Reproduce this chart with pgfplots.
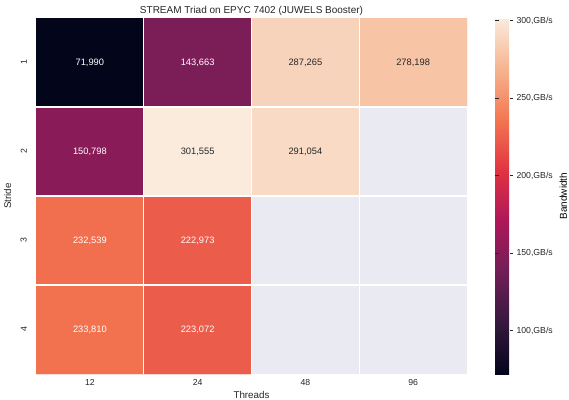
\documentclass[border=0pt]{standalone}
\usepackage{fontspec}
\setmainfont{Liberation Sans}
\usepackage{pgfplots}
\pgfplotsset{compat=1.18}
\usepackage{pgfplotstable}

% seaborn "rocket" colour map
\pgfplotsset{
  colormap={rocket}{
    rgb255(0)=(3,5,26)
    rgb255(1)=(53,25,62)
    rgb255(2)=(112,31,87)
    rgb255(3)=(173,23,89)
    rgb255(4)=(225,51,66)
    rgb255(5)=(243,118,81)
    rgb255(6)=(246,180,143)
    rgb255(7)=(250,235,221)
  }
}
\definecolor{bgcell}{RGB}{234,234,242}
\definecolor{darktext}{RGB}{38,38,38}

% bandwidth in GB/s; x = thread column, y = stride row (nan = not measured)
\pgfplotstableread{
x y bw
0 0 71.990
1 0 143.663
2 0 287.265
3 0 278.198
0 1 150.798
1 1 301.555
2 1 291.054
3 1 nan
0 2 232.539
1 2 222.973
2 2 nan
3 2 nan
0 3 233.810
1 3 223.072
2 3 nan
3 3 nan
}\bwgrid

% cell labels, split by text colour
\pgfplotstableread{
x y bw
0 0 71.990
1 0 143.663
0 1 150.798
0 2 232.539
1 2 222.973
0 3 233.810
1 3 223.072
}\darkcells
\pgfplotstableread{
x y bw
2 0 287.265
3 0 278.198
1 1 301.555
2 1 291.054
}\lightcells

\begin{document}
\begin{tikzpicture}
\path[use as bounding box] (-36bp,-26bp) rectangle (533bp,374bp);
\begin{axis}[
  at={(0,0)}, anchor=south west,
  scale only axis, width=431bp, height=356bp,
  xmin=-0.5, xmax=3.5, ymin=-0.5, ymax=3.5,
  y dir=reverse,
  axis background/.style={fill=bgcell},
  axis line style={draw=none},
  xtick={0,1,2,3}, xticklabels={12,24,48,96},
  ytick={0,1,2,3}, yticklabels={1,2,3,4},
  minor xtick={0.5,1.5,2.5}, minor ytick={0.5,1.5,2.5},
  minor grid style={white, line width=1.3bp},
  xminorgrids, yminorgrids,
  axis on top,
  major tick length=0pt, minor tick length=0pt,
  tick label style={font=\fontsize{8.7bp}{10bp}\selectfont, text=darktext},
  yticklabel style={rotate=90, anchor=south, inner ysep=9bp},
  xticklabel style={yshift=-2bp},
  /pgf/number format/assume math mode=true,
  title={STREAM Triad on EPYC 7402 (JUWELS Booster)},
  title style={font=\fontsize{10bp}{12bp}\selectfont, text=darktext, yshift=-7bp},
  xlabel={Threads}, ylabel={Stride},
  label style={font=\fontsize{9.8bp}{11bp}\selectfont, text=darktext},
  xlabel style={yshift=1.5bp},
  ylabel style={yshift=-3bp},
  colormap name=rocket,
  point meta min=71.990, point meta max=301.555,
  unbounded coords=jump,
  colorbar,
  colorbar shift/.style={xshift=0pt},
  colorbar style={
    at={(parent axis.north east)}, anchor=north west, xshift=28bp,
    scale only axis, width=18bp, height=356bp,
    axis line style={draw=none},
    ytick={100,150,200,250,300},
    yticklabel={\pgfmathprintnumber{\tick},GB/s},
    /pgf/number format/assume math mode=true,
    yticklabel style={font=\fontsize{8.7bp}{10bp}\selectfont, text=darktext},
    major tick length=3.5bp,
    ytick style={draw=darktext, line width=0.6bp},
    ylabel={Bandwidth},
    ylabel style={font=\fontsize{9.8bp}{11bp}\selectfont, text=darktext},
    ylabel near ticks, yticklabel pos=right,
  },
]
\addplot[matrix plot*, mesh/cols=4, point meta=explicit]
  table[x=x, y=y, meta=bw] {\bwgrid};
\addplot[only marks, mark=none, point meta=explicit,
  nodes near coords={\pgfmathprintnumber[fixed,fixed zerofill,precision=3,use comma]{\pgfplotspointmeta}},
  nodes near coords align=center,
  every node near coord/.append style={text=white, font=\fontsize{9.3bp}{11bp}\selectfont},
] table[x=x, y=y, meta=bw] {\darkcells};
\addplot[only marks, mark=none, point meta=explicit,
  nodes near coords={\pgfmathprintnumber[fixed,fixed zerofill,precision=3,use comma]{\pgfplotspointmeta}},
  nodes near coords align=center,
  every node near coord/.append style={text=darktext, font=\fontsize{9.3bp}{11bp}\selectfont},
] table[x=x, y=y, meta=bw] {\lightcells};
\end{axis}
\end{tikzpicture}
\end{document}
